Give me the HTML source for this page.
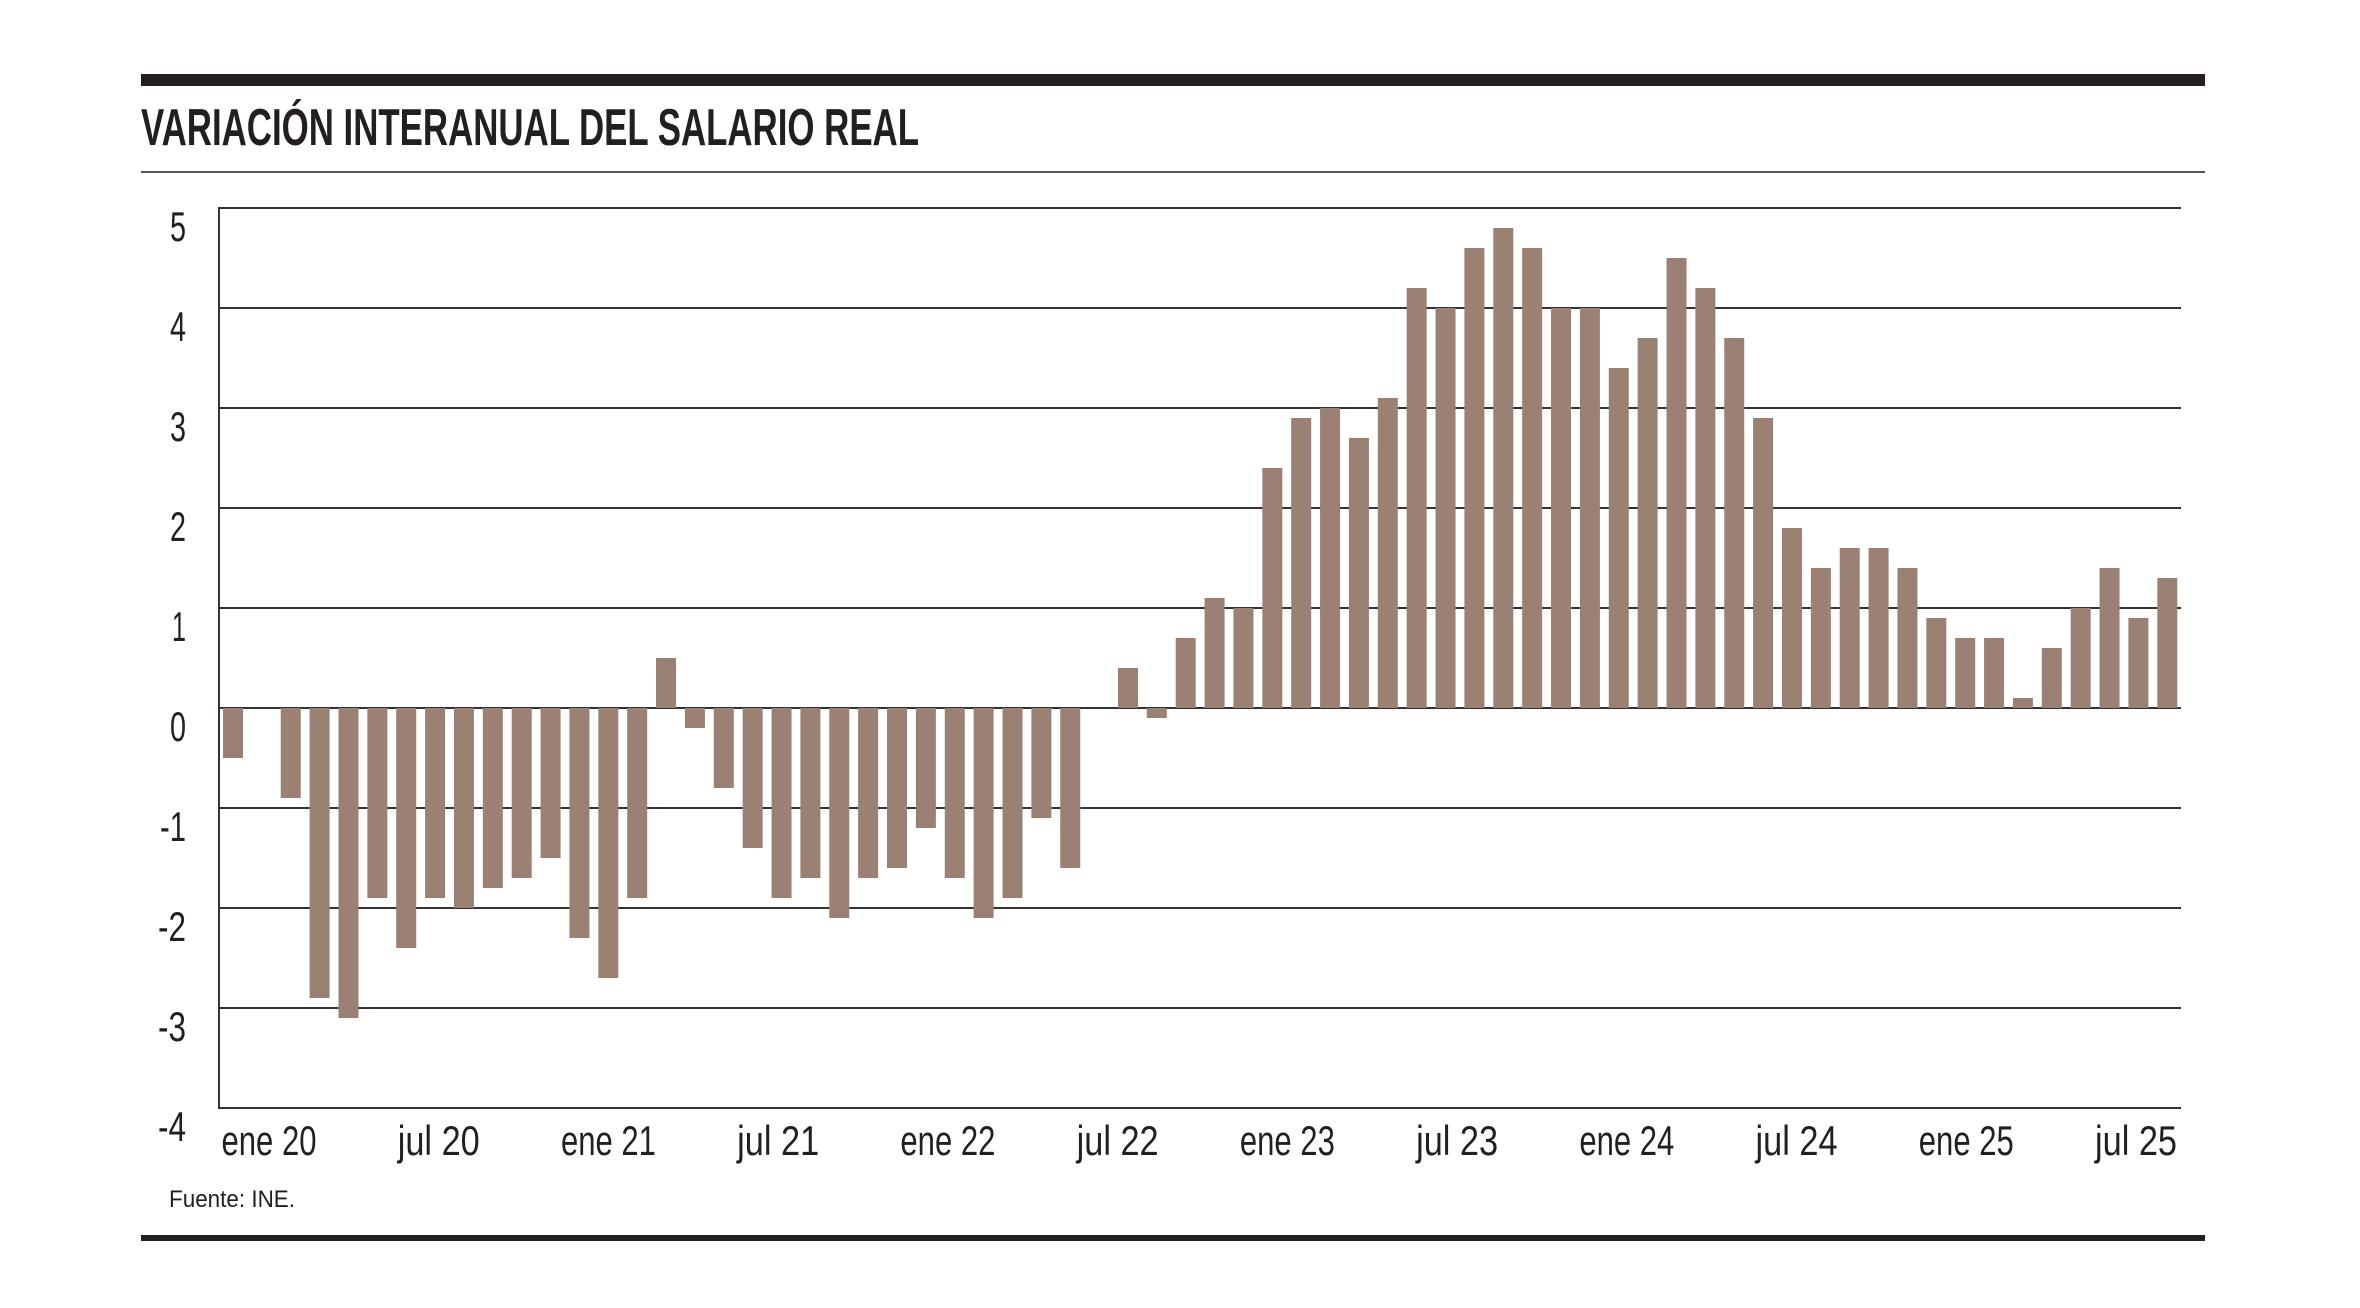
<!DOCTYPE html>
<html><head><meta charset="utf-8"><style>html,body{margin:0;padding:0;background:#fff}svg{display:block}</style></head>
<body>
<svg xmlns="http://www.w3.org/2000/svg" width="2360" height="1308" viewBox="0 0 2360 1308">
<rect width="2360" height="1308" fill="#fff"/>
<rect x="141" y="74" width="2064" height="12" fill="#231f20"/>
<text x="141" y="145" font-family="Liberation Sans, sans-serif" font-weight="bold" font-size="52" fill="#231f20" textLength="778" lengthAdjust="spacingAndGlyphs">VARIACIÓN INTERANUAL DEL SALARIO REAL</text>
<rect x="141" y="171" width="2064" height="2" fill="#555"/>
<g stroke="#333" stroke-width="2">
<line x1="219" y1="208" x2="2181" y2="208"/><line x1="219" y1="308" x2="2181" y2="308"/><line x1="219" y1="408" x2="2181" y2="408"/><line x1="219" y1="508" x2="2181" y2="508"/><line x1="219" y1="608" x2="2181" y2="608"/><line x1="219" y1="708" x2="2181" y2="708"/><line x1="219" y1="808" x2="2181" y2="808"/><line x1="219" y1="908" x2="2181" y2="908"/><line x1="219" y1="1008" x2="2181" y2="1008"/><line x1="219" y1="1108" x2="2181" y2="1108"/>
<line x1="219" y1="207" x2="219" y2="1109"/>
</g>
<g id="bars" fill="#9a8174"></g>
<g font-family="Liberation Sans, sans-serif" font-size="42" fill="#231f20" text-anchor="end">
<text x="186" y="241" textLength="16" lengthAdjust="spacingAndGlyphs">5</text><text x="186" y="341" textLength="16" lengthAdjust="spacingAndGlyphs">4</text><text x="186" y="441" textLength="16" lengthAdjust="spacingAndGlyphs">3</text><text x="186" y="541" textLength="16" lengthAdjust="spacingAndGlyphs">2</text><text x="186" y="641" textLength="14" lengthAdjust="spacingAndGlyphs">1</text><text x="186" y="741" textLength="16" lengthAdjust="spacingAndGlyphs">0</text><text x="186" y="841" textLength="26" lengthAdjust="spacingAndGlyphs">-1</text><text x="186" y="941" textLength="28" lengthAdjust="spacingAndGlyphs">-2</text><text x="186" y="1041" textLength="28" lengthAdjust="spacingAndGlyphs">-3</text><text x="186" y="1141" textLength="28" lengthAdjust="spacingAndGlyphs">-4</text>
</g>
<g font-family="Liberation Sans, sans-serif" font-size="42" fill="#231f20" text-anchor="middle" id="xl"></g>
<text x="169" y="1207" font-family="Liberation Sans, sans-serif" font-size="24" fill="#231f20" textLength="126" lengthAdjust="spacingAndGlyphs">Fuente: INE.</text>
<rect x="141" y="1235" width="2064" height="6" fill="#231f20"/>
<script>
var v=[-0.5,0,-0.9,-2.9,-3.1,-1.9,-2.4,-1.9,-2.0,-1.8,-1.7,-1.5,-2.3,-2.7,-1.9,0.5,-0.2,-0.8,-1.4,-1.9,-1.7,-2.1,-1.7,-1.6,-1.2,-1.7,-2.1,-1.9,-1.1,-1.6,0,0.4,-0.1,0.7,1.1,1.0,2.4,2.9,3.0,2.7,3.1,4.2,4.0,4.6,4.8,4.6,4.0,4.0,3.4,3.7,4.5,4.2,3.7,2.9,1.8,1.4,1.6,1.6,1.4,0.9,0.7,0.7,0.1,0.6,1.0,1.4,0.9,1.3];
var ns="http://www.w3.org/2000/svg",g=document.getElementById('bars');
v.forEach(function(d,i){if(!d)return;var r=document.createElementNS(ns,'rect');var x=223+i*28.87;var y=d>0?708-d*100:708;r.setAttribute('x',x);r.setAttribute('y',y);r.setAttribute('width',20);r.setAttribute('height',Math.abs(d)*100);g.appendChild(r);});
var L=['ene 20','jul 20','ene 21','jul 21','ene 22','jul 22','ene 23','jul 23','ene 24','jul 24','ene 25','jul 25'],xl=document.getElementById('xl');
L.forEach(function(t,i){var e=document.createElementNS(ns,'text');e.setAttribute('x',269+i*(2136-269)/11);e.setAttribute('y',1155);var w=t[0]=='e'?95:82;e.setAttribute('textLength',w);e.setAttribute('lengthAdjust','spacingAndGlyphs');e.textContent=t;xl.appendChild(e);});
</script>
</svg>
</body></html>
